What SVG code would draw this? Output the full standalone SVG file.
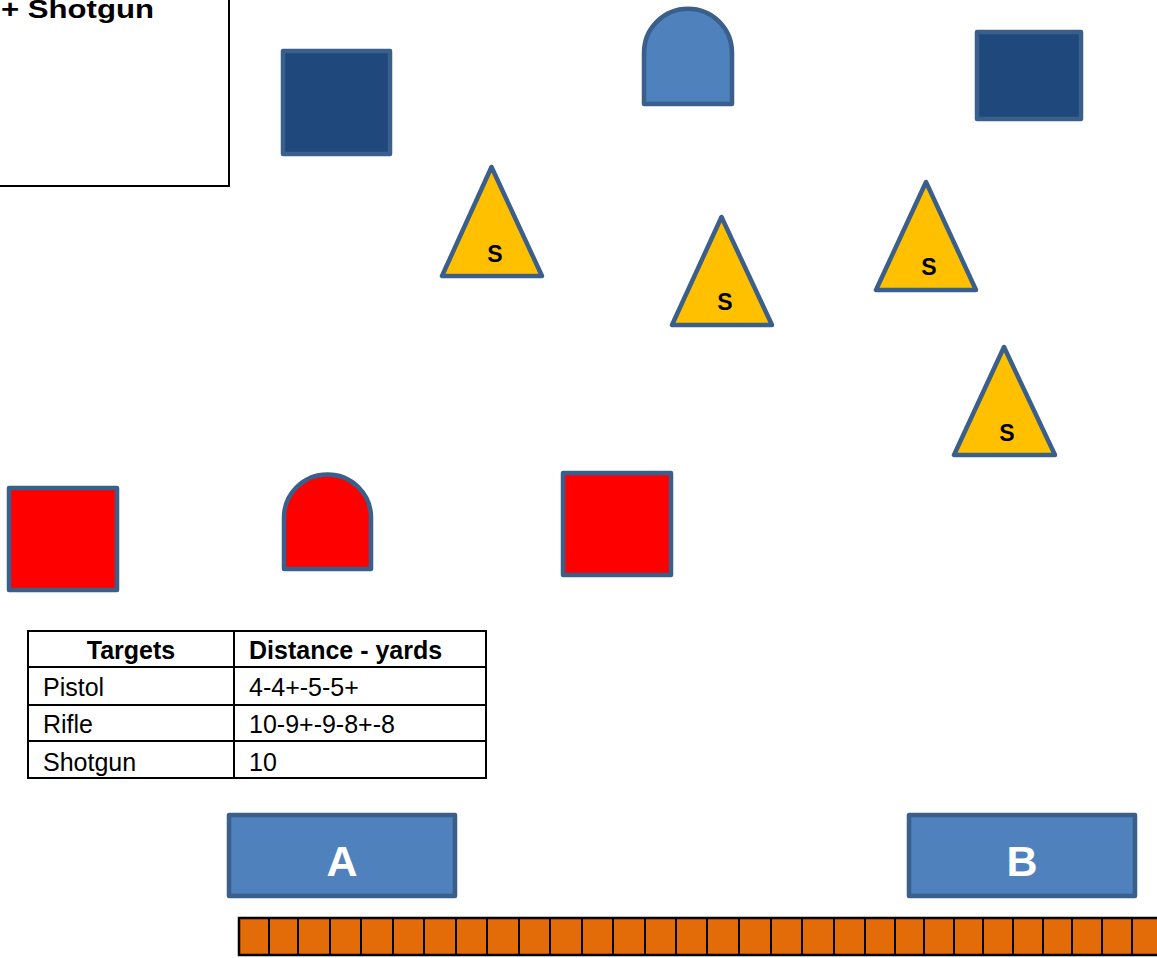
<svg xmlns="http://www.w3.org/2000/svg" width="1157" height="958" viewBox="0 0 1157 958">
<style>
.sh{stroke:#3A5F8B;stroke-width:4.5;stroke-linejoin:round}
.dark{fill:#1F497D}
.lb{fill:#4F81BD}
.red{fill:#FF0000}
.tri{fill:#FFC000}
.s{font-family:"Liberation Sans",Arial,sans-serif;font-weight:bold;font-size:23px;fill:#000;text-anchor:middle}
.t{font-family:"Liberation Sans",Arial,sans-serif;font-size:25px;fill:#000}
.tb{font-weight:bold}
.big{font-family:"Liberation Sans",Arial,sans-serif;font-weight:bold;font-size:43px;fill:#fff;text-anchor:middle}
.grid{fill:none;stroke:#000;stroke-width:2}
.cell{stroke:#000;stroke-width:2}
</style>
<rect width="1157" height="958" fill="#fff"/>

<g id="legend">
<rect x="-10" y="-10" width="239" height="196" fill="#fff" stroke="#000" stroke-width="2"/>
<text x="1" y="18" class="t tb" font-size="30" textLength="153" lengthAdjust="spacingAndGlyphs">+ Shotgun</text>
</g>

<g id="dark1"><rect class="sh dark" x="283" y="51" width="107" height="103"/></g>
<g id="dark2"><rect class="sh dark" x="977" y="32" width="104" height="87"/></g>
<g id="arch-blue"><path class="sh lb" d="M644 104 V52.7 A44 44 0 0 1 732 52.7 V104 Z"/></g>

<g id="tri1"><polygon class="sh tri" points="491.5,167 442,276 542,276"/><text class="s" x="495" y="262">S</text></g>
<g id="tri2"><polygon class="sh tri" points="721.5,217 672,325 772,325"/><text class="s" x="725" y="310">S</text></g>
<g id="tri3"><polygon class="sh tri" points="926,182 876,290 976,290"/><text class="s" x="929" y="275">S</text></g>
<g id="tri4"><polygon class="sh tri" points="1004,347 954,455 1055,455"/><text class="s" x="1007" y="441">S</text></g>

<g id="red1"><rect class="sh red" x="9" y="488" width="108" height="102"/></g>
<g id="arch-red"><path class="sh red" d="M284 569 V517.5 A43.5 43 0 0 1 371 517.5 V569 Z"/></g>
<g id="red2"><rect class="sh red" x="563" y="473" width="108" height="102"/></g>

<g id="table">
<rect class="grid" x="28" y="631" width="458" height="147" fill="#fff"/>
<line class="grid" x1="28" y1="667" x2="486" y2="667"/>
<line class="grid" x1="28" y1="705" x2="486" y2="705"/>
<line class="grid" x1="28" y1="741" x2="486" y2="741"/>
<line class="grid" x1="234" y1="631" x2="234" y2="778"/>
<text class="t tb" x="131" y="659" text-anchor="middle">Targets</text>
<text class="t tb" x="249" y="659">Distance - yards</text>
<text class="t" x="43" y="696">Pistol</text>
<text class="t" x="249" y="696">4-4+-5-5+</text>
<text class="t" x="43" y="733">Rifle</text>
<text class="t" x="249" y="733">10-9+-9-8+-8</text>
<text class="t" x="43" y="771">Shotgun</text>
<text class="t" x="249" y="771">10</text>
</g>

<g id="boxA"><rect class="sh lb" x="229" y="815" width="226" height="81"/><text class="big" x="342" y="876">A</text></g>
<g id="boxB"><rect class="sh lb" x="909" y="815" width="226" height="81"/><text class="big" x="1022" y="876">B</text></g>

<g id="bar">
<rect x="239" y="918" width="930" height="37" fill="#E36C09" stroke="#000" stroke-width="2.5"/>
<path class="cell" d="M269 918V955M298 918V955M330 918V955M361 918V955M393 918V955M424 918V955M456 918V955M487 918V955M519 918V955M550 918V955M582 918V955M613 918V955M645 918V955M676 918V955M707 918V955M739 918V955M771 918V955M802 918V955M834 918V955M865 918V955M895 918V955M924 918V955M954 918V955M983 918V955M1013 918V955M1043 918V955M1072 918V955M1102 918V955M1132 918V955"/>
</g>
</svg>
